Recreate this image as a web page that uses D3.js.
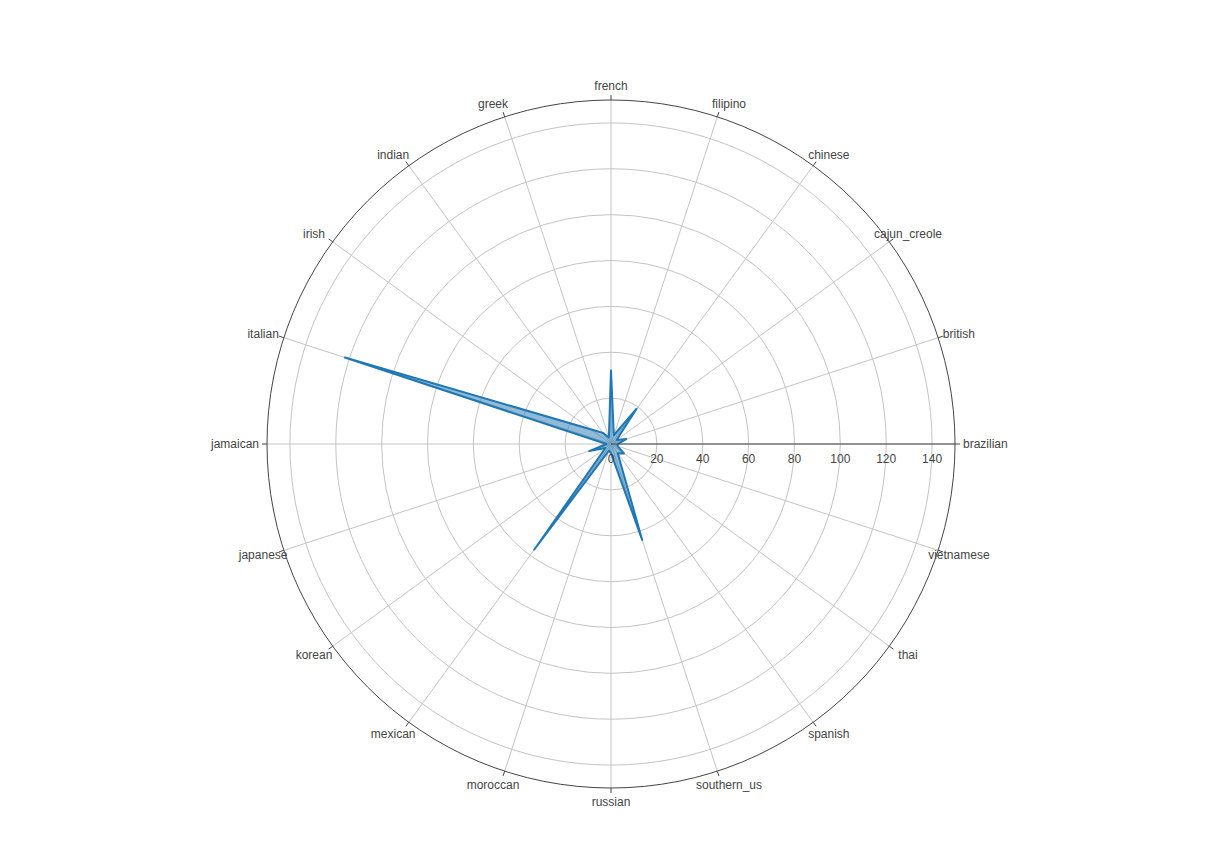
<!DOCTYPE html>
<html>
<head>
<meta charset="utf-8">
<script src="https://cdn.jsdelivr.net/npm/d3@7"></script>
<style>
  body { margin: 0; background: #fff; }
  text { font-family: "Liberation Sans", Arial, sans-serif; }
</style>
</head>
<body>
<svg id="chart"></svg>
<script>
const cuisines = ['brazilian', 'british', 'cajun_creole', 'chinese', 'filipino', 'french',
  'greek', 'indian', 'irish', 'italian', 'jamaican', 'japanese', 'korean', 'mexican',
  'moroccan', 'russian', 'southern_us', 'spanish', 'thai', 'vietnamese'];
const counts = [3, 7, 3, 19, 4, 32, 3, 6, 11, 122, 2, 10, 3, 57, 3, 4, 44, 5, 7, 3];
const radialTicks = [0, 20, 40, 60, 80, 100, 120, 140];

const width = 1222;
const height = 867;
const cx = 611;
const cy = 444;
const outerR = 344;

const rScale = d3.scaleLinear().domain([0, 150]).range([0, outerR]);
// angle of each category, counter-clockwise from east
const angle = d3.scalePoint().domain(cuisines).range([0, 2 * Math.PI * 19 / 20]);

const svg = d3.select('#chart').attr('width', width).attr('height', height);
const g = svg.append('g').attr('transform', `translate(${cx},${cy})`);

/* grid circles */
g.selectAll('circle.grid')
  .data(radialTicks.slice(1))
  .enter()
  .append('circle')
  .attr('class', 'grid')
  .attr('r', d => rScale(d))
  .attr('fill', 'none')
  .attr('stroke', '#c4c4c4')
  .attr('stroke-width', 1);

/* angular grid lines */
g.selectAll('line.spoke')
  .data(cuisines)
  .enter()
  .append('line')
  .attr('class', 'spoke')
  .attr('x1', 0)
  .attr('y1', 0)
  .attr('x2', d => outerR * Math.cos(angle(d)))
  .attr('y2', d => -outerR * Math.sin(angle(d)))
  .attr('stroke', '#c4c4c4')
  .attr('stroke-width', 1);

/* outer circle */
g.append('circle')
  .attr('r', outerR)
  .attr('fill', 'none')
  .attr('stroke', '#444')
  .attr('stroke-width', 1);

/* angular ticks */
g.selectAll('line.atick')
  .data(cuisines)
  .enter()
  .append('line')
  .attr('class', 'atick')
  .attr('x1', d => outerR * Math.cos(angle(d)))
  .attr('y1', d => -outerR * Math.sin(angle(d)))
  .attr('x2', d => (outerR + 5) * Math.cos(angle(d)))
  .attr('y2', d => -(outerR + 5) * Math.sin(angle(d)))
  .attr('stroke', '#444')
  .attr('stroke-width', 1);

/* angular labels */
const flat = d => Math.abs(Math.sin(angle(d))) < 0.1;
g.selectAll('text.alabel')
  .data(cuisines)
  .enter()
  .append('text')
  .attr('class', 'alabel')
  .attr('x', d => {
    const c = Math.cos(angle(d));
    if (flat(d)) return Math.sign(c) * 352;
    return c * 358 + (Math.abs(c) < 0.1 ? 0 : Math.sign(c) * 7.4);
  })
  .attr('y', d => -358 * Math.sin(angle(d)))
  .attr('dy', '0.35em')
  .attr('text-anchor', d => {
    if (!flat(d)) return 'middle';
    return Math.cos(angle(d)) > 0 ? 'start' : 'end';
  })
  .attr('font-size', 12)
  .attr('fill', '#444')
  .text(d => d);

/* data polygon */
const radial = d3.lineRadial()
  .angle(d => Math.PI / 2 - angle(d.c))
  .radius(d => rScale(d.v))
  .curve(d3.curveLinearClosed);

g.append('path')
  .datum(cuisines.map((c, i) => ({ c, v: counts[i] })))
  .attr('d', radial)
  .attr('fill', 'rgba(31,119,180,0.5)')
  .attr('stroke', '#1f77b4')
  .attr('stroke-width', 2)
  .attr('stroke-linejoin', 'round');

/* radial axis */
g.append('line')
  .attr('x1', 0)
  .attr('y1', 0)
  .attr('x2', outerR)
  .attr('y2', 0)
  .attr('stroke', '#444')
  .attr('stroke-width', 1);

g.selectAll('text.rlabel')
  .data(radialTicks)
  .enter()
  .append('text')
  .attr('class', 'rlabel')
  .attr('x', d => rScale(d))
  .attr('y', 15)
  .attr('dy', '0.35em')
  .attr('text-anchor', 'middle')
  .attr('font-size', 12)
  .attr('fill', '#444')
  .text(d => d);
</script>
</body>
</html>
